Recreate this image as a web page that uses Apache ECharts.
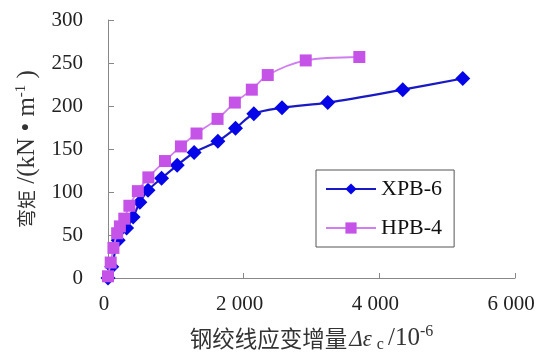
<!DOCTYPE html>
<html>
<head>
<meta charset="utf-8">
<script src="https://cdn.jsdelivr.net/npm/echarts@6/dist/echarts.min.js"></script>
<style>
html,body{margin:0;padding:0;background:#fff;}
#chart{width:553px;height:354px;}
</style>
</head>
<body>
<div id="chart"></div>
<script>
// Data
var seriesNames = ['XPB-6', 'HPB-4'];
var xpbStrain = [0, 55, 150, 275, 370, 470, 590, 790, 1020, 1270, 1620, 1880, 2150, 2565, 3240, 4345, 5230];
var xpbMoment = [0, 13, 44, 58, 71, 88, 102, 116, 131, 146, 159, 174, 191, 198, 204, 219, 232];
var hpbStrain = [0, 40, 80, 135, 175, 240, 315, 440, 595, 840, 1075, 1305, 1615, 1870, 2120, 2355, 2915, 3705];
var hpbMoment = [2, 18, 35, 52, 60, 69, 84, 101, 117, 136, 153, 168, 185, 204, 219, 236, 253, 257];
var xTicks = [0, 2000, 4000, 6000];
var yTicks = [0, 50, 100, 150, 200, 250, 300];

function pairs(xs, ys) { return xs.map(function (x, i) { return [x, ys[i]]; }); }

var serif = '"Liberation Serif", "Times New Roman", serif';
var cjk = '"Noto Sans CJK SC", sans-serif';

var chart = echarts.init(document.getElementById('chart'));
chart.setOption({
  animation: false,
  backgroundColor: '#ffffff',
  grid: { left: 108, right: 38, top: 20, bottom: 76, containLabel: false, outerBoundsMode: 'none' },
  legend: {
    left: 316, top: 170,
    orient: 'vertical',
    data: seriesNames,
    borderColor: '#555',
    borderWidth: 1,
    padding: [7, 12, 7, 9],
    itemGap: 15,
    itemWidth: 50,
    itemHeight: 14,
    textStyle: { fontFamily: serif, fontSize: 22, color: '#111', lineHeight: 24 }
  },
  xAxis: {
    type: 'value',
    min: xTicks[0], max: xTicks[xTicks.length - 1], interval: 2000,
    axisLine: { show: true, lineStyle: { color: '#888', width: 1 } },
    axisTick: { show: true, inside: true, length: 5, lineStyle: { color: '#888' } },
    splitLine: { show: false },
    axisLabel: {
      margin: 16,
      fontFamily: serif, fontSize: 21, color: '#222',
      padding: [0, 8, 0, 0],
      formatter: function (v) { return v === 0 ? '0' : (v / 1000) + ' 000'; }
    },
    name: '{cn|钢绞线应变增量}{it|Δε}{sub|c}{n|/10}{sup|-6}',
    nameLocation: 'middle',
    nameGap: 45,
    nameTextStyle: {
      rich: {
        cn: { fontFamily: cjk, fontSize: 22.5, color: '#333', lineHeight: 28 },
        it: { fontFamily: serif, fontStyle: 'italic', fontSize: 23, color: '#333', padding: [4, 0, 0, 2] },
        sub: { fontFamily: serif, fontSize: 16, color: '#333', padding: [14, 4, 0, 5] },
        n: { fontFamily: serif, fontSize: 25, color: '#333' },
        sup: { fontFamily: serif, fontSize: 16, color: '#333', padding: [0, 0, 12, 0] }
      }
    }
  },
  yAxis: {
    type: 'value',
    min: yTicks[0], max: yTicks[yTicks.length - 1], interval: 50,
    axisLine: { show: true, lineStyle: { color: '#888', width: 1 } },
    axisTick: { show: true, inside: true, length: 6, lineStyle: { color: '#888' } },
    splitLine: { show: false },
    axisLabel: { margin: 25, fontFamily: serif, fontSize: 21, color: '#222' },
    name: '{cn|弯矩}{n| /(kN • m}{sup|-1}{n| )}',
    nameLocation: 'middle',
    nameRotate: 90,
    nameGap: 67,
    nameTextStyle: {
      rich: {
        cn: { fontFamily: cjk, fontSize: 19, color: '#333', lineHeight: 28 },
        n: { fontFamily: serif, fontSize: 25, color: '#333' },
        sup: { fontFamily: serif, fontSize: 15, color: '#333', padding: [0, 0, 12, 0] }
      }
    }
  },
  series: [
    {
      name: seriesNames[0],
      type: 'line',
      data: pairs(xpbStrain, xpbMoment),
      smooth: 0.3,
      symbol: 'diamond',
      symbolSize: 15,
      itemStyle: { color: '#0505e8' },
      lineStyle: { color: '#1a1ac4', width: 2.2 },
      z: 2
    },
    {
      name: seriesNames[1],
      type: 'line',
      data: pairs(hpbStrain, hpbMoment),
      smooth: 0.3,
      symbol: 'rect',
      symbolSize: 12,
      itemStyle: { color: '#c653e8' },
      lineStyle: { color: '#d07ff0', width: 1.8 },
      z: 3
    }
  ]
});
</script>
</body>
</html>
